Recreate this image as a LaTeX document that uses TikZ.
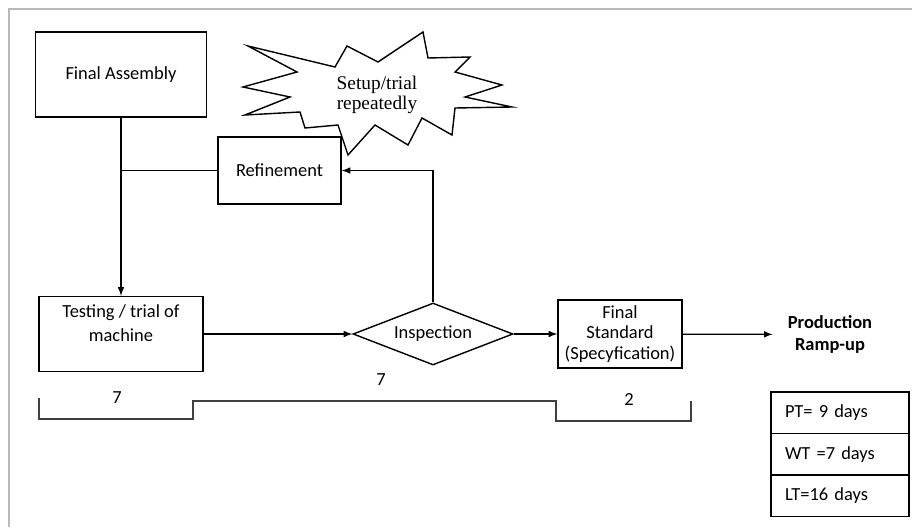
\documentclass[tikz,border=0pt]{standalone}
\usepackage{fontspec}
\setmainfont{Carlito}
\newfontfamily\burstfont{Liberation Serif}
\usetikzlibrary{shapes.geometric}

\begin{document}
\begin{tikzpicture}[x=0.02cm,y=-0.02cm,>=latex,line width=0.7pt,
    font=\fontsize{10.5}{12.5}\selectfont,
    box/.style={draw,line width=0.8pt,align=center,inner sep=2pt},
    cell/.style={draw,line width=0.8pt,minimum width=2.76cm,minimum height=0.83cm,text width=2.2cm,inner xsep=0.28cm,align=left}]
        \useasboundingbox (0,0) rectangle (912,527);
        \draw[gray!55,line width=1.2pt] (9,527) -- (9,9) -- (912,9);
        % boxes
        \node[box,minimum width=3.42cm,minimum height=1.70cm] (fa) at (121,74.5) {Final Assembly};
        \node[box,minimum width=2.46cm,minimum height=1.34cm] (ref) at (279.5,170.5) {Refinement};
        \node[box,minimum width=3.28cm,minimum height=1.50cm] (test) at (121,334) {Testing / trial of\\[1pt]machine\\ \mbox{}};
        \node[draw,diamond,aspect=2.6,line width=0.8pt,minimum width=3.2cm,minimum height=1.24cm,inner sep=0] (insp) at (433,334) {Inspection};
        \node[box,minimum width=2.48cm,minimum height=1.36cm,font=\fontsize{10.5}{11.5}\selectfont] (fs) at (620,334) {Final\\Standard\\(Specyfication)};
        \node[align=center,font=\fontsize{10.5}{12}\selectfont\bfseries] (ramp) at (830,334.5) {Production\\Ramp-up};
        % burst
        \draw[line width=0.8pt] (248,46) -- (335,67) -- (347,46) -- (378,62) -- (423,32) -- (428,58) -- (470,57) -- (455,72)
            -- (502,85) -- (465,97) -- (512,107) -- (455,108) -- (452,135) -- (422,118) -- (408,145) -- (375,125)
            -- (348,155) -- (338,125) -- (305,128) -- (300,112) -- (245,115) -- (290,97) -- (243,87) -- (297,72) -- cycle;
        \node[align=center,font=\burstfont\fontsize{11}{9.5}\selectfont] (burst) at (377,95) {Setup/trial\\repeatedly};
        % flow
        \draw[->] (fa) -- (test);
        \draw (ref.west) -- (ref.west -| fa.south);
        \draw[->] (insp.north) |- (ref.east);
        \draw[->] (test) -- (insp);
        \draw[->] (insp) -- (fs);
        \draw[->,shorten >=5pt] (fs) -- (ramp);
        % timeline
        \node (pt1) at (117,398) {7};
        \node (wt) at (381,380) {7};
        \node (pt2) at (629,400) {2};
        \draw[black!75,line width=0.9pt] (39,398) |- (193,419) |- (556,401) |- (691,421) -- (691,401);
        % totals
        \node[cell] (pt) at (840,412.75) {PT= 9 days};
        \node[cell] (wtt) at (840,454.25) {WT =7 days};
        \node[cell] (lt) at (840,495.75) {LT=16 days};
      \end{tikzpicture}
\end{document}
